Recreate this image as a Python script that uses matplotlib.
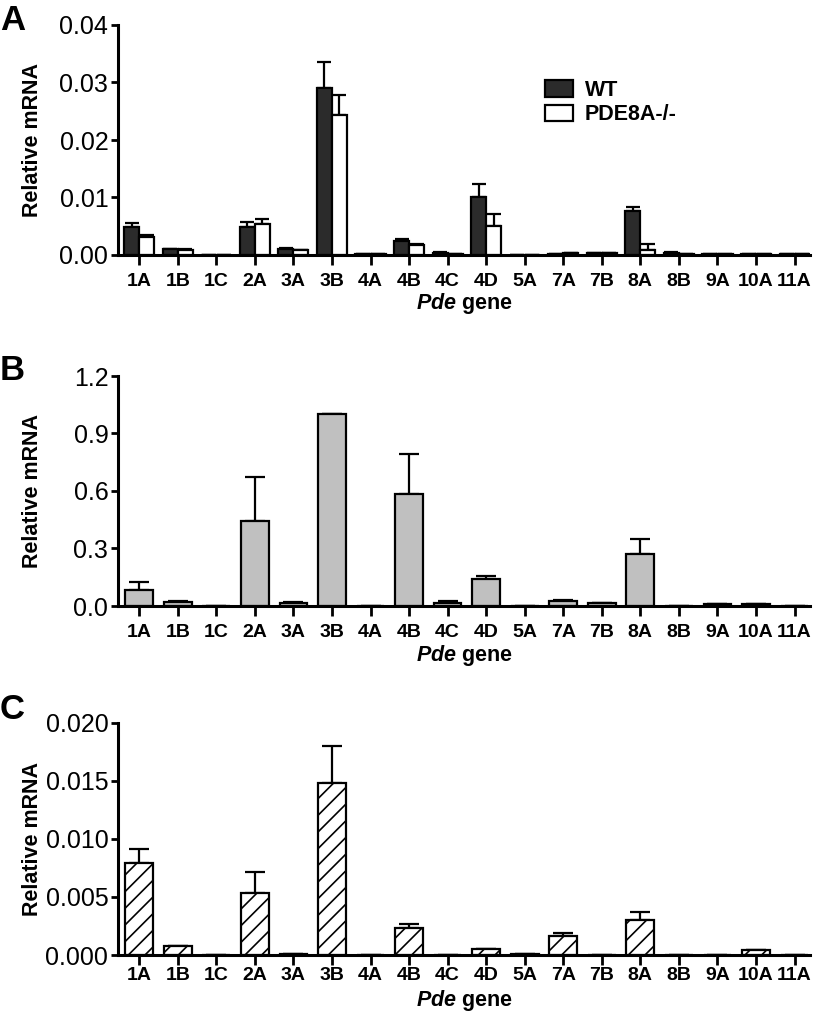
import matplotlib
matplotlib.use("Agg")
import matplotlib.pyplot as plt
import numpy as np

plt.rcParams['font.family'] = ['Liberation Sans', 'DejaVu Sans']
plt.rcParams['mathtext.fontset'] = 'custom'
plt.rcParams['mathtext.rm'] = 'Liberation Sans'
plt.rcParams['mathtext.bf'] = 'Liberation Sans:bold'
plt.rcParams['mathtext.it'] = 'Liberation Sans:italic'
plt.rcParams['mathtext.bfit'] = 'Liberation Sans:italic:bold'
plt.rcParams['hatch.linewidth'] = 1.2

genes = ["1A", "1B", "1C", "2A", "3A", "3B", "4A", "4B", "4C", "4D",
         "5A", "7A", "7B", "8A", "8B", "9A", "10A", "11A"]

# Panel A: WT vs PDE8A-/-
a_wt = [0.0049, 0.0010, 0.0, 0.0048, 0.0011, 0.0290, 0.0001, 0.0025, 0.0004, 0.0101,
        0.0, 0.0002, 0.0003, 0.0076, 0.0004, 0.0002, 0.0002, 0.0001]
a_wt_err = [0.0007, 0.0001, 0.0, 0.0009, 0.0001, 0.0045, 0.0, 0.0003, 0.0001, 0.0022,
            0.0, 0.0, 0.0, 0.0007, 0.0001, 0.0, 0.0, 0.0]
a_ko = [0.0032, 0.0008, 0.0, 0.0054, 0.0008, 0.0243, 0.0002, 0.0018, 0.0002, 0.0051,
        0.0, 0.0003, 0.0003, 0.0009, 0.0001, 0.0002, 0.0002, 0.0001]
a_ko_err = [0.0003, 0.0003, 0.0, 0.0009, 0.0, 0.0036, 0.0, 0.0001, 0.0, 0.0021,
            0.0, 0.0, 0.0, 0.0010, 0.0, 0.0, 0.0, 0.0]

# Panel B
b_val = [0.085, 0.023, 0.0, 0.442, 0.017, 1.0, 0.002, 0.584, 0.017, 0.143,
         0.0, 0.028, 0.016, 0.271, 0.0, 0.010, 0.012, 0.0]
b_err = [0.040, 0.003, 0.0, 0.233, 0.003, 0.0, 0.0, 0.207, 0.009, 0.014,
         0.0, 0.005, 0.002, 0.077, 0.0, 0.001, 0.001, 0.0]

# Panel C
c_val = [0.00791, 0.00075, 0.00003, 0.00538, 0.00005, 0.01482, 0.0, 0.00236, 0.0, 0.00049,
         0.00005, 0.00164, 0.0, 0.00302, 0.0, 0.00003, 0.0004, 0.0]
c_err = [0.00121, 0.00005, 0.0, 0.00176, 0.0, 0.00322, 0.0, 0.00032, 0.0, 0.00003,
         0.0, 0.00023, 0.0, 0.00066, 0.0, 0.0, 0.00005, 0.0]

a_ticks = [0.0, 0.01, 0.02, 0.03, 0.04]
a_ticklabels = ["0.00", "0.01", "0.02", "0.03", "0.04"]
b_ticks = [0.0, 0.3, 0.6, 0.9, 1.2]
b_ticklabels = ["0.0", "0.3", "0.6", "0.9", "1.2"]
c_ticks = [0.0, 0.005, 0.010, 0.015, 0.020]
c_ticklabels = ["0.000", "0.005", "0.010", "0.015", "0.020"]

fig = plt.figure(figsize=(8.15, 10.13), dpi=100)
left, width = 118 / 815, (810 - 118) / 815
axA = fig.add_axes([left, 1 - 255 / 1013, width, 230 / 1013])
axB = fig.add_axes([left, 1 - 606 / 1013, width, 230 / 1013])
axC = fig.add_axes([left, 1 - 955 / 1013, width, 232 / 1013])

x = np.arange(len(genes))
LW = 1.6


def style(ax, ticks, ticklabels, letter, letter_y, xlab_y, xpad):
    ax.set_xlim(-0.55, 17.4)
    ax.set_ylim(ticks[0], ticks[-1])
    ax.set_yticks(ticks)
    ax.set_yticklabels(ticklabels, fontsize=18)
    ax.set_xticks(x)
    ax.set_xticklabels(genes, fontsize=14, fontweight='bold')
    for s in ['top', 'right']:
        ax.spines[s].set_visible(False)
    for s in ['left', 'bottom']:
        ax.spines[s].set_linewidth(2.2)
    ax.tick_params(axis='y', direction='out', length=5, width=2, pad=2)
    ax.tick_params(axis='x', direction='out', length=7, width=2, pad=xpad)
    ax.set_ylabel("Relative mRNA", fontsize=15.5, fontweight='bold')
    ax.yaxis.set_label_coords(-0.108, 0.5)
    ax.set_xlabel(r"$\bfit{Pde}$ gene", fontsize=15.5, fontweight='bold')
    ax.xaxis.label.set_va('center')
    ax.xaxis.set_label_coords(0.5, xlab_y)
    ax.text(-0.171, letter_y, letter, transform=ax.transAxes, fontsize=25,
            fontweight='bold', va='center', ha='left')


# Panel A
w = 0.39
axA.bar(x - w / 2, a_wt, width=w, color='#2b2b2b', edgecolor='black', linewidth=LW,
        label='WT', zorder=2)
axA.bar(x + w / 2, a_ko, width=w, color='white', edgecolor='black', linewidth=LW,
        label='PDE8A-/-', zorder=2)
axA.errorbar(x - w / 2, a_wt, yerr=[np.zeros(len(x)), a_wt_err], fmt='none',
             ecolor='black', elinewidth=LW, capsize=5, capthick=LW, zorder=1)
axA.errorbar(x + w / 2, a_ko, yerr=[np.zeros(len(x)), a_ko_err], fmt='none',
             ecolor='black', elinewidth=LW, capsize=5, capthick=LW, zorder=1)
style(axA, a_ticks, a_ticklabels, "A", 1.02, -48 / 230, 6)
leg = axA.legend(loc='upper left', bbox_to_anchor=(0.617, 0.76), frameon=False,
                 prop={'weight': 'bold', 'size': 15.5}, handlelength=1.3,
                 handleheight=0.8, handletextpad=0.55, labelspacing=0.15,
                 borderpad=0, borderaxespad=0)

# Panel B
wb = 0.72
axB.bar(x, b_val, width=wb, color='#c0c0c0', edgecolor='black', linewidth=LW, zorder=2)
axB.errorbar(x, b_val, yerr=[np.zeros(len(x)), b_err], fmt='none', ecolor='black',
             elinewidth=LW, capsize=7, capthick=LW, zorder=1)
style(axB, b_ticks, b_ticklabels, "B", 1.026, -49 / 230, 6)

# Panel C
axC.bar(x, c_val, width=wb, color='white', edgecolor='black', linewidth=LW,
        hatch='//', zorder=2)
axC.errorbar(x, c_val, yerr=[np.zeros(len(x)), c_err], fmt='none', ecolor='black',
             elinewidth=LW, capsize=7, capthick=LW, zorder=1)
style(axC, c_ticks, c_ticklabels, "C", 1.06, -45 / 232, 1.5)

fig.savefig("out.png", dpi=100)
